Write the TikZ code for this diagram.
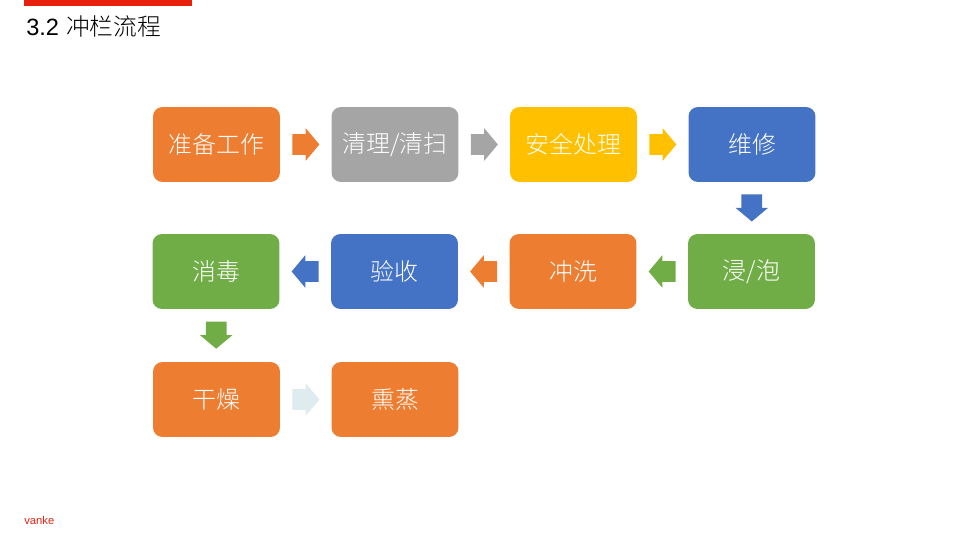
\documentclass[tikz,border=0pt]{standalone}
\usepackage{fontspec}
\setmainfont{Liberation Sans}
\newfontfamily\cjk{Noto Sans CJK SC Light}
\usetikzlibrary{shapes.arrows}
\definecolor{vkorange}{HTML}{ED7D31}
\definecolor{vkgray}{HTML}{A5A5A5}
\definecolor{vkgold}{HTML}{FFC000}
\definecolor{vkblue}{HTML}{4472C4}
\definecolor{vkgreen}{HTML}{70AD47}
\definecolor{vkpale}{HTML}{DEEBEF}
\definecolor{vkred}{HTML}{E8210F}
\tikzset{
  stepbox/.style={rectangle, rounded corners=0.19cm, minimum width=2.54cm, minimum height=1.5cm,
    inner sep=0pt, text=white, font=\cjk\fontsize{13.6}{16}\selectfont},
  blockarrow/.style={single arrow, minimum height=0.54cm, minimum width=0.64cm,
    inner xsep=0pt, inner ysep=0.2cm, single arrow head extend=0.12cm,
    single arrow tip angle=100, pos=0.23, anchor=tail, shape border rotate=#1},
  downarrow/.style={blockarrow=270, inner xsep=0.2cm, inner ysep=0pt},
}
\begin{document}
\begin{tikzpicture}[x=0.02cm,y=-0.02cm]
  \useasboundingbox (0,0) rectangle (960,540);
  \fill [vkred] (24,0) rectangle (192,6);
  \node (title) [anchor=west, inner sep=0pt] at (26,26) {\fontsize{13.4}{16}\selectfont 3.2\hspace{0.3em}{\cjk\fontsize{13.5}{16}\selectfont 冲栏流程}};
  \node (logo) [anchor=west, inner sep=0pt, text=vkred] at (24,520) {\fontsize{6.4}{7}\selectfont vanke};
  % first row
  \node (prep) [stepbox, fill=vkorange] at (216.5,144.5) {准备工作};
  \node (clean) [stepbox, fill=vkgray] at (395,144.5) {清理/清扫};
  \node (safe) [stepbox, fill=vkgold] at (573.5,144.5) {安全处理};
  \node (repair) [stepbox, fill=vkblue] at (752,144.5) {维修};
  % second row
  \node (soak) [stepbox, fill=vkgreen] at (751.5,271.5) {浸/泡};
  \node (rinse) [stepbox, fill=vkorange] at (573,271.5) {冲洗};
  \node (check) [stepbox, fill=vkblue] at (394.5,271.5) {验收};
  \node (disinfect) [stepbox, fill=vkgreen] at (216,271.5) {消毒};
  % third row
  \node (dry) [stepbox, fill=vkorange] at (216.5,399.5) {干燥};
  \node (fume) [stepbox, fill=vkorange] at (395,399.5) {熏蒸};
  % arrows
  \path (prep) -- (clean) node (a1) [blockarrow=0, fill=vkorange] {};
  \path (clean) -- (safe) node (a2) [blockarrow=0, fill=vkgray] {};
  \path (safe) -- (repair) node (a3) [blockarrow=0, fill=vkgold] {};
  \path (repair) -- (soak) node (a4) [downarrow, fill=vkblue] {};
  \path (soak) -- (rinse) node (a5) [blockarrow=180, fill=vkgreen] {};
  \path (rinse) -- (check) node (a6) [blockarrow=180, fill=vkorange] {};
  \path (check) -- (disinfect) node (a7) [blockarrow=180, fill=vkblue] {};
  \path (disinfect) -- (dry) node (a8) [downarrow, fill=vkgreen] {};
  \path (dry) -- (fume) node (a9) [blockarrow=0, fill=vkpale] {};
\end{tikzpicture}
\end{document}
